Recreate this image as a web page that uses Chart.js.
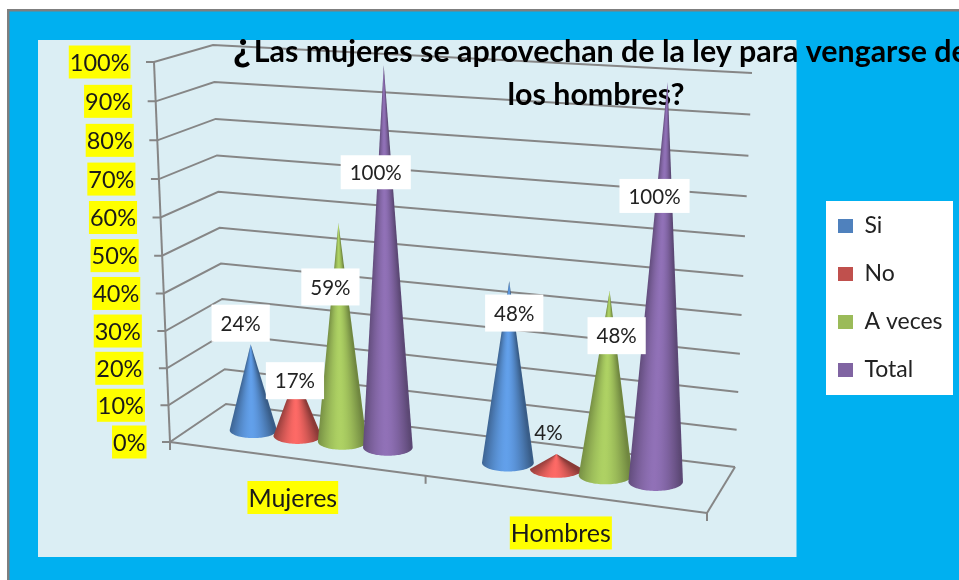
<!DOCTYPE html>
<html><head><meta charset="utf-8">
<style>html,body{margin:0;padding:0;background:#fff}canvas{display:block}</style>
<script src="https://cdn.jsdelivr.net/npm/chart.js@4"></script>
</head><body><canvas id="c" width="959" height="580"></canvas>
<script>
const categories = ['Mujeres', 'Hombres'];
const seriesNames = ['Si', 'No', 'A veces', 'Total'];
const si = [24, 48];
const no = [17, 4];
const aVeces = [59, 48];
const total = [100, 100];
const seriesColors = ['#4F81BD', '#C0504D', '#9BBB59', '#8064A2'];
const coneHighlight = [1.24, 1.32, 1.12, 1.13];
const titleMark = '¿';
const titleLines = ['\u00A0\u00A0\u00A0\u00A0Las mujeres se aprovechan de la ley para vengarse de', 'los hombres?'];

// Label nudges from the cone apex (per series, per category)
const labelNudge = [
  [[-10,-21],[5,32]],
  [[-1,6],[-8,-22]],
  [[-8,64],[7,45]],
  [[-8,107],[-13,114]]
];
// Projection frame of the 3-D box
const FL0=[170,442],FL1=[154,62],BL0=[226,404],BL1=[213,45],BR0=[735,467],BR1=[752,73],FR0=[707,513];
const PL0=[198,423],PR0=[721,490],PR1=[737,86],PL1=[183.5,53.5];

function homography(p0,p1,p2,p3){
  const dx1=p1[0]-p2[0],dx2=p3[0]-p2[0],sx=p0[0]-p1[0]+p2[0]-p3[0];
  const dy1=p1[1]-p2[1],dy2=p3[1]-p2[1],sy=p0[1]-p1[1]+p2[1]-p3[1];
  const den=dx1*dy2-dx2*dy1;
  const g=(sx*dy2-dx2*sy)/den,h=(dx1*sy-sx*dy1)/den;
  const a=p1[0]-p0[0]+g*p1[0],b=p3[0]-p0[0]+h*p3[0],c=p0[0];
  const d=p1[1]-p0[1]+g*p1[1],e=p3[1]-p0[1]+h*p3[1],f=p0[1];
  return (u,v)=>{const w=g*u+h*v+1;return [(a*u+b*v+c)/w,(d*u+e*v+f)/w];};
}
const conePlane=homography(PL0,PR0,PR1,PL1);
const leftWall=homography(FL0,BL0,BL1,FL1);
const backWall=homography(BL0,BR0,BR1,BL1);
const floorPlane=homography(FL0,FR0,BR0,BL0);

function shade(hex,k){
  const n=parseInt(hex.slice(1),16);
  return [n>>16,(n>>8)&255,n&255].map(c=>Math.min(255,c*k));
}
function mix(a,b,t){return 'rgb('+a.map((c,i)=>Math.round(c+(b[i]-c)*t)).join(',')+')';}

class ConeController extends Chart.BarController {
  draw(){ /* cones are painted back to front by the plugin below */ }
  paintCones(){
    const chart=this.chart,ctx=chart.ctx,ca=chart.chartArea;
    const color=this.getDataset().backgroundColor;
    const dark=shade(color,0.72),light=shade(color,coneHighlight[this.index]);
    this.getMeta().data.forEach(bar=>{
      const u=(bar.x-ca.left)/(ca.right-ca.left);
      const v=(ca.bottom-bar.y)/(ca.bottom-ca.top);
      const du=bar.width/2/(ca.right-ca.left);
      const C=conePlane(u,0),A=conePlane(u,v);
      const r=(conePlane(u+du,0)[0]-conePlane(u-du,0)[0])/2;
      const b=r*0.34,N=48;
      const pt=t=>[C[0]+r*Math.cos(t),C[1]+b*Math.sin(t)];
      const ang=p=>Math.atan2(p[1]-A[1],p[0]-A[0]);
      const start=ang(pt(0))-0.05;
      const g=ctx.createConicGradient(start,A[0],A[1]);
      ctx.beginPath();ctx.moveTo(A[0],A[1]);
      let last=0;
      for(let i=0;i<=N;i++){
        const t=Math.PI*i/N,p=pt(t);
        ctx.lineTo(p[0],p[1]);
        const off=Math.max(last,(ang(p)-start)/(2*Math.PI));last=off;
        const k=Math.pow(Math.abs(Math.cos(t)+0.08),1.6);
        g.addColorStop(Math.min(1,off),mix(light,dark,Math.min(1,k)));
      }
      ctx.closePath();
      ctx.fillStyle=g;ctx.fill();
    });
  }
}
ConeController.id='cone';
ConeController.defaults=Chart.BarController.defaults;
ConeController.overrides=Chart.BarController.overrides;
Chart.register(ConeController);

function line(ctx,a,b){ctx.beginPath();ctx.moveTo(a[0],a[1]);ctx.lineTo(b[0],b[1]);ctx.stroke();}
const FONT='Lato';
const GRID='#868686';

const scene={
  id:'scene',
  afterLayout(chart){
    const t=chart.titleBlock;
    t.left=200;t.right=992;t.top=31;t.bottom=120;
    const l=chart.legend;
    l.left=813;l.right=953;l.top=189.5;l.bottom=580;
  },
  beforeDraw(chart){
    const ctx=chart.ctx,ca=chart.chartArea,ys=chart.scales.y;
    ctx.save();
    ctx.fillStyle='#fff';ctx.fillRect(0,0,959,580);
    ctx.fillStyle='#7F7F7F';ctx.fillRect(7,9,952,571);
    ctx.fillStyle='#00B0F0';ctx.fillRect(9.5,11.5,950,569);
    ctx.fillStyle='#DBEEF4';ctx.fillRect(38,40,758.5,517);
    ctx.fillStyle='#fff';ctx.fillRect(826,201,127,194);
    ctx.strokeStyle=GRID;ctx.lineWidth=2;ctx.lineCap='butt';
    const H=ca.bottom-ca.top;
    ys.ticks.forEach(tk=>{
      const v=(ca.bottom-ys.getPixelForValue(tk.value))/H;
      const F=leftWall(0,v),B=leftWall(1,v),R=backWall(1,v);
      ctx.beginPath();ctx.moveTo(F[0]-8,F[1]);ctx.lineTo(F[0],F[1]);ctx.lineTo(B[0],B[1]);ctx.lineTo(R[0],R[1]);ctx.stroke();
    });
    line(ctx,leftWall(0,0),leftWall(0,1));
    const f=(u,d)=>floorPlane(u,d);
    line(ctx,f(0,0),f(1,0));
    line(ctx,f(1,0),f(1,1));
    const xs=chart.scales.x,W=ca.right-ca.left;
    [0,0.5,1].forEach(u=>{const p=f(u,0);line(ctx,p,[p[0],p[1]+8]);});
    ctx.font='23.5px '+FONT;ctx.textBaseline='middle';
    ys.ticks.forEach(tk=>{
      const v=(ca.bottom-ys.getPixelForValue(tk.value))/H;
      const F=leftWall(0,v);
      const w=ctx.measureText(tk.label).width;
      const xr=F[0]-24.5;
      ctx.fillStyle='#FFFF00';ctx.fillRect(xr-w-1,F[1]-16.5,w+2,33);
      ctx.fillStyle='#1a1a1a';ctx.textAlign='right';ctx.fillText(tk.label,xr,F[1]+1);
    });
    ctx.font='25px '+FONT;
    categories.forEach((c,i)=>{
      const u=(xs.getPixelForValue(i)-ca.left)/W;
      const p=f(u,0);
      const w=ctx.measureText(c).width;
      const x=p[0]-2,y=p[1]+39;
      ctx.fillStyle='#FFFF00';ctx.fillRect(x-w/2-1,y-16.5,w+2,33);
      ctx.fillStyle='#1a1a1a';ctx.textAlign='center';ctx.fillText(c,x,y+1);
    });
    ctx.font='bold 40px '+FONT;ctx.textAlign='left';ctx.textBaseline='alphabetic';
    ctx.fillStyle='#000';ctx.fillText(titleMark,233,60);
    ctx.restore();
  },
  afterDatasetsDraw(chart){
    const ctx=chart.ctx,ca=chart.chartArea;
    const n=chart.data.datasets.length;
    ctx.save();
    for(let i=0;i<n;i++)chart.getDatasetMeta(i).controller.paintCones();
    ctx.font='20.5px '+FONT;ctx.textBaseline='middle';ctx.textAlign='center';
    for(let i=0;i<n;i++){
      const ds=chart.data.datasets[i];
      chart.getDatasetMeta(i).data.forEach((bar,j)=>{
        const u=(bar.x-ca.left)/(ca.right-ca.left),v=(ca.bottom-bar.y)/(ca.bottom-ca.top);
        const A=conePlane(u,v),val=ds.data[j],txt=val+'%';
        const x=A[0]+labelNudge[i][j][0],y=A[1]+labelNudge[i][j][1];
        if(val>=10){
          const w=ctx.measureText(txt).width+18,h=val>=100?34:37;
          ctx.fillStyle='#fff';ctx.fillRect(x-w/2,y-h/2,w,h);
        }
        ctx.fillStyle='#222';ctx.fillText(txt,x,y+1);
      });
    }
    ctx.restore();
  }
};

const seriesValues=[si,no,aVeces,total];
new Chart(document.getElementById('c'),{
  type:'cone',
  data:{labels:categories,datasets:seriesNames.map((name,i)=>({
    label:name,data:seriesValues[i],backgroundColor:seriesColors[i],borderWidth:0,
    categoryPercentage:0.72,barPercentage:1.08
  }))},
  plugins:[scene],
  options:{
    responsive:false,animation:false,devicePixelRatio:1,
    layout:{padding:{left:180,bottom:90}},
    scales:{
      x:{ticks:{display:false},grid:{display:false},border:{display:false}},
      y:{min:0,max:100,ticks:{stepSize:10,display:false,callback:v=>v+'%'},grid:{display:false},border:{display:false}}
    },
    plugins:{
      tooltip:{enabled:false},
      title:{display:true,text:titleLines,color:'#000',align:'center',
        font:{family:FONT,weight:'bold',size:30.4,lineHeight:1.414},padding:0},
      legend:{display:true,position:'right',align:'start',
        labels:{boxWidth:15,boxHeight:14,padding:25,color:'#222',font:{family:FONT,size:23}}}
    }
  }
});
</script></body></html>
